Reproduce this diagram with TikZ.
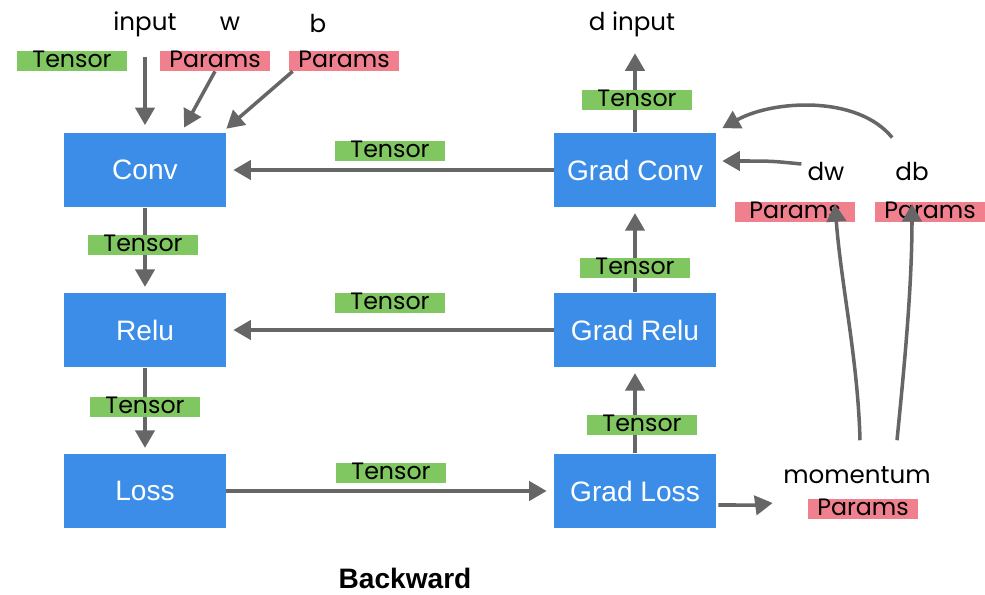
\documentclass[tikz,border=0pt]{standalone}
\usepackage{fontspec}
\setmainfont{Liberation Sans}
\newfontfamily\handfont{Poppins}
\usetikzlibrary{arrows.meta,calc}
\definecolor{boxblue}{RGB}{59,141,232}
\definecolor{taggreen}{RGB}{128,199,98}
\definecolor{tagpink}{RGB}{241,128,143}
\definecolor{flowgray}{RGB}{102,102,102}
\begin{document}
\begin{tikzpicture}[x=0.02cm,y=-0.02cm,
  box/.style={fill=boxblue,text=white,minimum width=3.24cm,minimum height=1.5cm,
    font=\fontsize{16}{18}\selectfont},
  labelsty/.style={font=\handfont\fontsize{14}{16}\selectfont},
  tensor/.style={fill=taggreen,minimum width=2.2cm,minimum height=0.4cm,inner sep=0pt,
    text height=1.6ex,text depth=0.2ex,font=\handfont\fontsize{13.5}{15}\selectfont},
  params/.style={tensor,fill=tagpink},
  flow/.style={draw=flowgray,line width=2pt,-{Triangle[length=10pt,width=11pt]}}]
  \useasboundingbox (0,0) rectangle (985,595);

  \node[box] (conv) at (145,170) {Conv};
  \node[box] (relu) at (145,330) {Relu};
  \node[box] (loss) at (145,491) {Loss};
  \node[box] (gconv) at (635,170) {Grad Conv};
  \node[box] (grelu) at (635,330) {Grad Relu};
  \node[box] (gloss) at (635,491) {Grad Loss};

  \node[labelsty] (input) at (145,24) {input};
  \node[labelsty] (w) at (230,24) {w};
  \node[labelsty] (b) at (318,24) {b};
  \node[labelsty] (dinput) at (632,24) {d input};
  \node[labelsty] (dw) at (826,172) {dw};
  \node[labelsty] (db) at (912,172) {db};
  \node[labelsty] (mom) at (857,475) {momentum};
  \node[font=\bfseries\fontsize{16}{18}\selectfont] (title) at (405,578) {Backward};

  \draw[flow,shorten <=8pt,shorten >=4pt] (input) -- (conv);
  \draw[flow,shorten >=3pt] (conv) -- (relu);
  \draw[flow,shorten >=3pt] (relu) -- (loss);
  \draw[flow,shorten >=4pt] (loss) -- (gloss);
  \draw[flow,shorten >=4pt] (gconv) -- (conv);
  \draw[flow,shorten >=4pt] (grelu) -- (relu);
  \draw[flow,shorten >=3pt] (gloss) -- (grelu);
  \draw[flow,shorten >=3pt] (grelu) -- (gconv);
  \draw[flow,shorten >=6pt] (gconv.north) -- (gconv.north |- dinput.south);

  \node[tensor] (tin) at (72,61) {Tensor};
  \node[params] (pw) at (215,61) {Params};
  \node[params] (pb) at (344,61) {Params};
  \node[tensor] (t1) at (143,245) {Tensor};
  \node[tensor] (t2) at (145,407) {Tensor};
  \node[tensor] (t3) at (390,151) {Tensor};
  \node[tensor] (t4) at (390,303) {Tensor};
  \node[tensor] (t5) at (391,473) {Tensor};
  \node[tensor] (t6) at (637,100) {Tensor};
  \node[tensor] (t7) at (635,268) {Tensor};
  \node[tensor] (t8) at (642,425) {Tensor};
  \node[params,minimum width=2.4cm] (pdw) at (795,212) {Params};
  \node[params] (pdb) at (930,212) {Params};
  \node[params] (pmom) at (863,509) {Params};

  \draw[flow,shorten >=3pt] (pw.south) -- ($(conv.north)!0.45!(conv.north east)$);
  \draw[flow,shorten >=3pt] ($(pb.south west)+(4,0)$) -- ($(conv.north east)+(-4,0)$);
  \draw[flow] ($(dw.west)+(0,-8)$) .. controls +(-30,-3) .. ($(gconv.east)+(6,-9)$);
  \draw[flow] ($(db.north west)+(3,-19)$) .. controls +(-35,-43) and +(50,-28) .. ($(gconv.north east)+(6,-4)$);
  \draw[flow] ($(mom.north)+(3,-20)$) .. controls +(-2,-80) and +(6,80) .. ($(pdw.center)+(40,-8)$);
  \draw[flow] ($(mom.north)+(40,-20)$) .. controls +(8,-80) and +(0,80) .. ($(pdb.center)+(-18,-8)$);
  \draw[flow] ($(gloss.east)+(2,14)$) .. controls +(25,0) and +(-15,2) .. ($(pmom.west)+(-35,-6)$);
\end{tikzpicture}
\end{document}
